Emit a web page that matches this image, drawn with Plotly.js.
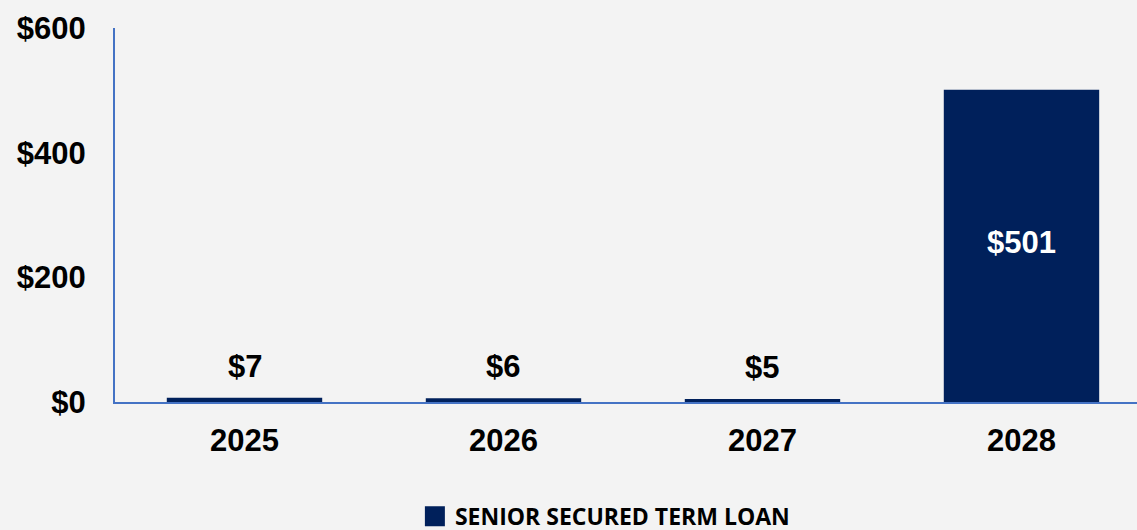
<!DOCTYPE html>
<html>
<head>
<meta charset="utf-8">
<script src="https://cdn.plot.ly/plotly-3.0.1.min.js"></script>
<style>
html,body{margin:0;padding:0;background:#f3f3f3;}
#chart{width:1137px;height:530px;}
</style>
</head>
<body>
<div id="chart"></div>
<script>
const categories = ['2025', '2026', '2027', '2028'];
const seniorSecuredTermLoan = [7, 6, 5, 501];
const seriesName = 'SENIOR SECURED TERM LOAN';
const yTickValues = [0, 200, 400, 600];
const yTickLabels = ['$0', '$200', '$400', '$600'];

const barColor = '#00205B';
const axisColor = '#4472C4';
const tickFont = {family: 'Liberation Sans, Arial, sans-serif', size: 31, color: '#000000', weight: 'bold'};

const bars = {
  type: 'bar',
  x: categories,
  y: seniorSecuredTermLoan,
  name: seriesName,
  width: 0.6,
  marker: {color: barColor, line: {width: 0}},
  showlegend: false
};

const legendEntry = {
  type: 'scatter',
  mode: 'markers',
  x: [null],
  y: [null],
  name: seriesName,
  marker: {symbol: 'square', size: 16, color: barColor, line: {width: 4, color: barColor}},
  showlegend: true
};

const annotations = seniorSecuredTermLoan.map((v, i) => {
  const inside = v > 100;
  return {
    x: i,
    y: inside ? v / 2 : v,
    xref: 'x', yref: 'y',
    text: '<b>$' + v + '</b>',
    showarrow: false,
    yanchor: inside ? 'middle' : 'bottom',
    yshift: inside ? 3 : 12,
    font: {family: 'Liberation Sans, Arial, sans-serif', size: 31, color: inside ? '#ffffff' : '#000000'}
  };
});

const layout = {
  width: 1137,
  height: 530,
  margin: {l: 115, r: 0, t: 28, b: 128},
  paper_bgcolor: '#f3f3f3',
  plot_bgcolor: 'rgba(0,0,0,0)',
  xaxis: {
    type: 'category',
    range: [-0.5, 3.446],
    showline: true,
    linecolor: axisColor,
    linewidth: 2,
    showgrid: false,
    zeroline: false,
    ticks: 'outside',
    ticklen: 10,
    tickcolor: 'rgba(0,0,0,0)',
    tickfont: tickFont,
    fixedrange: true
  },
  yaxis: {
    range: [0, 600],
    tickvals: yTickValues,
    ticktext: yTickLabels,
    showline: true,
    linecolor: axisColor,
    linewidth: 2,
    showgrid: false,
    zeroline: false,
    ticks: 'outside',
    ticklen: 21,
    tickcolor: 'rgba(0,0,0,0)',
    tickfont: tickFont,
    fixedrange: true
  },
  showlegend: true,
  legend: {
    orientation: 'h',
    xref: 'container',
    yref: 'container',
    x: 0.532,
    xanchor: 'center',
    y: 0.026,
    yanchor: 'middle',
    font: {family: 'Open Sans, sans-serif', size: 23, weight: 'bold', color: '#000000'},
    bgcolor: 'rgba(0,0,0,0)'
  },
  annotations: annotations
};

Plotly.newPlot('chart', [bars, legendEntry], layout, {displayModeBar: false, staticPlot: true});
</script>
</body>
</html>
